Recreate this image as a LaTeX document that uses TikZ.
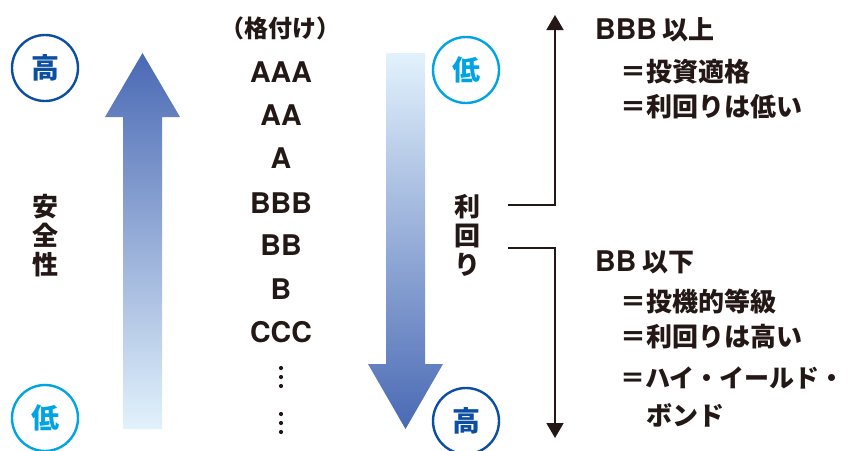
\documentclass[tikz,border=0pt]{standalone}
\usepackage{fontspec}
\usetikzlibrary{arrows.meta}
\newfontfamily\jp{Noto Sans CJK JP}
\newfontfamily\lat{TeX Gyre Heros}
\definecolor{ink}{HTML}{231815}
\definecolor{darkblue}{HTML}{0B4EA2}
\definecolor{cyanblue}{HTML}{00A3E4}
\definecolor{arrdark}{HTML}{4A69B4}
\definecolor{arrlight}{HTML}{E2F2FC}
\tikzset{
  jptext/.style={font=\jp\bfseries\fontsize{26}{29}\selectfont, text=ink, inner sep=0pt},
  rating/.style={font=\lat\bfseries\fontsize{28.5}{30}\selectfont, text=ink, inner sep=0pt},
  circhi/.style={circle, draw=darkblue, line width=2.4pt, minimum size=66pt, inner sep=0pt,
    text=darkblue, font=\jp\bfseries\fontsize{28}{30}\selectfont},
  circlo/.style={circle, draw=cyanblue, line width=2.4pt, minimum size=66pt, inner sep=0pt,
    text=cyanblue, font=\jp\bfseries\fontsize{28}{30}\selectfont},
  bracket/.style={draw=ink, line width=1.8pt, -{Triangle[length=15pt,width=17pt]}},
  dot/.style={circle, fill=ink, inner sep=0pt, minimum size=4.2pt},
}
\begin{document}
\begin{tikzpicture}[x=1pt,y=-1pt]
\useasboundingbox (0,0) rectangle (849,450);
% arrows
\shade[top color=arrdark, bottom color=arrlight]
  (123,429) -- (123,117) -- (105,117) -- (142.5,53) -- (180,117) -- (162,117) -- (162,429) -- cycle;
\shade[top color=arrlight, bottom color=arrdark]
  (386,53) -- (386,364) -- (368,364) -- (405.5,429) -- (443,364) -- (425,364) -- (425,53) -- cycle;
% circles
\node[circhi] (hiL) at (45,68) {高};
\node[circlo] (loL) at (45,418) {低};
\node[circlo] (loR) at (466,70) {低};
\node[circhi] (hiR) at (466,421) {高};
% vertical labels
\node[jptext, align=center] (safety) at (45,236) {安\\全\\性};
\node[jptext, align=center] (yield) at (467,235) {利\\回\\り};
% ratings
\node[jptext, font=\jp\bfseries\fontsize{24}{26}\selectfont] (head) at (280,28) {（格付け）};
\node[rating] (r1) at (281,72) {AAA};
\node[rating] (r2) at (281,115) {AA};
\node[rating] (r3) at (281,158) {A};
\node[rating] (r4) at (281,203) {BBB};
\node[rating] (r5) at (281,245) {BB};
\node[rating] (r6) at (281,289) {B};
\node[rating] (r7) at (281,332) {CCC};
\node[dot] (d1) at (281,368) {};
\node[dot] (d2) at (281,377) {};
\node[dot] (d3) at (281,386) {};
\node[dot] (d4) at (281,414) {};
\node[dot] (d5) at (281,423) {};
\node[dot] (d6) at (281,432) {};
% brackets
\coordinate (u0) at (508,205);
\coordinate (u1) at (555,205);
\coordinate (u2) at (555,15);
\coordinate (l0) at (508,248);
\coordinate (l1) at (555,248);
\coordinate (l2) at (555,438);
\draw[bracket] (u0) -- (u1) -- (u2);
\draw[bracket] (l0) -- (l1) -- (l2);
% right texts
\node[jptext, anchor=west] (t1) at (595,30) {{\lat\fontsize{28.5}{30}\selectfont BBB} 以上};
\node[jptext, anchor=west] (t2) at (620,72) {＝投資適格};
\node[jptext, anchor=west] (t3) at (620,107) {＝利回りは低い};
\node[jptext, anchor=west] (t4) at (595,262) {{\lat\fontsize{28.5}{30}\selectfont BB} 以下};
\node[jptext, anchor=west] (t5) at (620,302) {＝投機的等級};
\node[jptext, anchor=west] (t6) at (620,337) {＝利回りは高い};
\node[jptext, anchor=west, font=\jp\bfseries\fontsize{25}{29}\selectfont] (t7) at (620,378) {＝ハイ・イールド・};
\node[jptext, anchor=west] (t8) at (646,415) {ボンド};
\end{tikzpicture}
\end{document}
